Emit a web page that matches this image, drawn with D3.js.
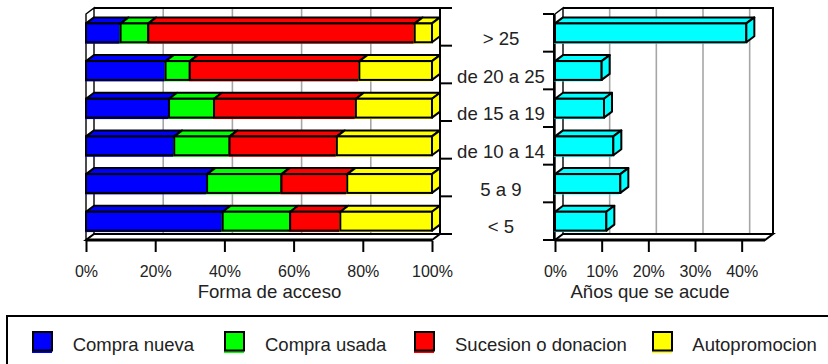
<!DOCTYPE html>
<html>
<head>
<meta charset="utf-8">
<script src="https://cdn.jsdelivr.net/npm/d3@7"></script>
<style>
  html, body { margin: 0; padding: 0; background: #ffffff; }
  svg { display: block; }
  text { font-family: "Liberation Sans", Arial, sans-serif; fill: #222222; }
</style>
</head>
<body>
<svg id="chart" width="828" height="364"></svg>
<script>
// Age bands of the dwelling (top to bottom)
const categories = ["> 25", "de 20 a 25", "de 15 a 19", "de 10 a 14", "5 a 9", "< 5"];

// Stacked shares (%) per way of access
const seriesNames = ["Compra nueva", "Compra usada", "Sucesion o donacion", "Autopromocion"];
const seriesColors = ["#0000ff", "#00ff00", "#ff0000", "#ffff00"];
const compraNueva   = [10, 23, 24, 25.5, 35, 39.5];
const compraUsada   = [8, 7, 13, 16, 21.5, 19.5];
const sucesion      = [77, 49, 41, 31, 19, 14.5];
const autopromocion = [5, 21, 22, 27.5, 24.5, 26.5];

// Share (%) of years attended
const aniosAcude = [41, 10, 10.5, 12.5, 14, 11];
const aniosColor = "#00ffff";

const leftTicks = [0, 20, 40, 60, 80, 100];
const rightTicks = [0, 10, 20, 30, 40];
const leftTitle = "Forma de acceso";
const rightTitle = "Años que se acude";

const svg = d3.select("#chart");
const DX = 8, DY = -6;            // depth offset of the 3-D plot boxes
const FRONT_TOP = 14, FRONT_BOTTOM = 240;
const TICK_LABEL_Y = 276.5, TITLE_Y = 297.5;

const y = d3.scaleBand().domain(categories)
  .range([FRONT_TOP, FRONT_BOTTOM]).paddingInner(0.5).paddingOuter(0.25);
const edges = categories.map(c => y(c) - (y.step() - y.bandwidth()) / 2)
  .concat([FRONT_BOTTOM]);

const xL = d3.scaleLinear().domain([0, 100]).range([86, 432]);
const xR = d3.scaleLinear().domain([0, 45]).range([555, 765]);

const rows = categories.map((c, i) => ({
  cat: c,
  vals: [compraNueva[i], compraUsada[i], sucesion[i], autopromocion[i]]
}));
const stackData = rows.map(r => {
  const o = { cat: r.cat };
  seriesNames.forEach((s, k) => o[s] = r.vals[k]);
  return o;
});
const stacked = d3.stack().keys(seriesNames)(stackData);

const pts = p => p.map(q => q.join(",")).join(" ");

// Walls, floor and gridlines of one 3-D plot box
function drawBox(g, x, gridVals) {
  const x0 = x.range()[0], x1 = x.range()[1];
  const bTop = FRONT_TOP + DY, bBot = FRONT_BOTTOM + DY;
  g.append("rect").attr("x", x0 + DX).attr("y", bTop)
    .attr("width", x1 - x0).attr("height", bBot - bTop).attr("fill", "#fff");
  g.selectAll("line.grid").data(gridVals).join("line").attr("class", "grid")
    .attr("x1", d => x(d) + DX).attr("x2", d => x(d) + DX)
    .attr("y1", bTop).attr("y2", bBot)
    .attr("stroke", "#a6a6a6").attr("stroke-width", 1.6);
  // top and right edges of the back wall
  g.append("polyline")
    .attr("points", pts([[x0 + DX, bTop], [x1 + DX, bTop], [x1 + DX, bBot]]))
    .attr("fill", "none").attr("stroke", "#000").attr("stroke-width", 2);
  // side wall
  g.append("polygon")
    .attr("points", pts([[x0, FRONT_TOP], [x0 + DX, bTop], [x0 + DX, bBot], [x0, FRONT_BOTTOM]]))
    .attr("fill", "#fff").attr("stroke", "#000").attr("stroke-width", 1.4);
  // floor
  g.append("polygon")
    .attr("points", pts([[x0, FRONT_BOTTOM], [x0 + DX, bBot], [x1 + DX, bBot], [x1, FRONT_BOTTOM]]))
    .attr("fill", "#fff").attr("stroke", "#000").attr("stroke-width", 2);
  g.append("line").attr("x1", x0).attr("x2", x1)
    .attr("y1", FRONT_BOTTOM).attr("y2", FRONT_BOTTOM)
    .attr("stroke", "#000").attr("stroke-width", 3);
}

// A 3-D bar segment: colour offset, top face, front face, optional end face
function drawSegment(g, xa, xb, yy, h, color, withEnd) {
  g.append("rect").attr("x", xa - 1).attr("y", yy + 1.5)
    .attr("width", xb - xa).attr("height", h).attr("fill", color);
  g.append("polygon")
    .attr("points", pts([[xa, yy], [xa + DX, yy + DY], [xb + DX, yy + DY], [xb, yy]]))
    .attr("fill", color).attr("stroke", "#000").attr("stroke-width", 2)
    .attr("stroke-linejoin", "round");
  g.append("rect").attr("x", xa).attr("y", yy)
    .attr("width", xb - xa).attr("height", h)
    .attr("fill", color).attr("stroke", "#000").attr("stroke-width", 2);
  if (withEnd) {
    g.append("polygon")
      .attr("points", pts([[xb, yy], [xb + DX, yy + DY], [xb + DX, yy + h + DY], [xb, yy + h]]))
      .attr("fill", color).attr("stroke", "#000").attr("stroke-width", 2)
      .attr("stroke-linejoin", "round");
  }
}

function styleAxis(gAx) {
  gAx.select(".domain").remove();
  gAx.selectAll(".tick line").attr("stroke", "#000").attr("stroke-width", 2);
  gAx.selectAll(".tick text").attr("dy", null).attr("y", TICK_LABEL_Y - (FRONT_BOTTOM + 1))
    .style("font-size", "16px").attr("fill", "#222")
    .style("font-family", '"Liberation Sans", Arial, sans-serif');
}

// ---------- left chart: stacked shares ----------
const gL = svg.append("g");
drawBox(gL, xL, leftTicks.slice(1, -1));

// category axis on the back-right edge
gL.append("line").attr("x1", xL(100) + DX).attr("x2", xL(100) + DX)
  .attr("y1", FRONT_TOP + DY).attr("y2", FRONT_BOTTOM + DY)
  .attr("stroke", "#000").attr("stroke-width", 2);
gL.selectAll("line.ytick").data(edges).join("line").attr("class", "ytick")
  .attr("x1", xL(100) + DX).attr("x2", xL(100) + DX + 12)
  .attr("y1", d => d + DY).attr("y2", d => d + DY)
  .attr("stroke", "#000").attr("stroke-width", 2);

rows.forEach((r, i) => {
  stacked.forEach((layer, k) => {
    const seg = layer[i];
    drawSegment(gL, xL(seg[0]), xL(seg[1]), y(r.cat), y.bandwidth(),
      seriesColors[k], k === stacked.length - 1);
  });
});

const axL = d3.axisBottom(xL).tickValues(leftTicks).tickFormat(d => d + "%")
  .tickSize(11).tickPadding(0);
styleAxis(svg.append("g").attr("transform", `translate(0,${FRONT_BOTTOM + 1})`).call(axL));

svg.append("text").attr("x", 269.5).attr("y", TITLE_Y).attr("text-anchor", "middle")
  .style("font-size", "18.6px").text(leftTitle);

// ---------- category labels between both charts ----------
svg.selectAll("text.cat").data(categories).join("text").attr("class", "cat")
  .attr("x", 501).attr("y", d => y(d) + y.bandwidth() / 2 + 12)
  .attr("text-anchor", "middle").style("font-size", "18.6px").text(d => d);

// ---------- right chart: years attended ----------
const gR = svg.append("g");
drawBox(gR, xR, rightTicks.slice(1));

gR.append("line").attr("x1", xR(0) - 1).attr("x2", xR(0) - 1)
  .attr("y1", FRONT_TOP).attr("y2", FRONT_BOTTOM + 1)
  .attr("stroke", "#000").attr("stroke-width", 2);
gR.selectAll("line.ytick").data(edges).join("line").attr("class", "ytick")
  .attr("x1", xR(0) - 12).attr("x2", xR(0) - 1)
  .attr("y1", d => d).attr("y2", d => d)
  .attr("stroke", "#000").attr("stroke-width", 2);

categories.forEach((c, i) => {
  drawSegment(gR, xR(0), xR(aniosAcude[i]), y(c), y.bandwidth(), aniosColor, true);
});

const axR = d3.axisBottom(xR).tickValues(rightTicks).tickFormat(d => d + "%")
  .tickSize(11).tickPadding(0);
styleAxis(svg.append("g").attr("transform", `translate(0,${FRONT_BOTTOM + 1})`).call(axR));

svg.append("text").attr("x", 650).attr("y", TITLE_Y).attr("text-anchor", "middle")
  .style("font-size", "18.6px").text(rightTitle);

// ---------- legend ----------
const legend = svg.append("g");
legend.append("rect").attr("x", 7).attr("y", 316).attr("width", 840).attr("height", 80)
  .attr("fill", "#fff").attr("stroke", "#000").attr("stroke-width", 2);
const legendX = [33, 225, 415, 653];
const legendTextX = [72.7, 265, 455, 692.3];
seriesNames.forEach((s, k) => {
  legend.append("rect").attr("x", legendX[k] - 1).attr("y", 334)
    .attr("width", 20).attr("height", 19).attr("fill", seriesColors[k]);
  legend.append("rect").attr("x", legendX[k]).attr("y", 332)
    .attr("width", 19).attr("height", 18.5)
    .attr("fill", seriesColors[k]).attr("stroke", "#000").attr("stroke-width", 2);
  legend.append("text").attr("x", legendTextX[k]).attr("y", 351)
    .style("font-size", "18.5px").text(s);
});
</script>
</body>
</html>
